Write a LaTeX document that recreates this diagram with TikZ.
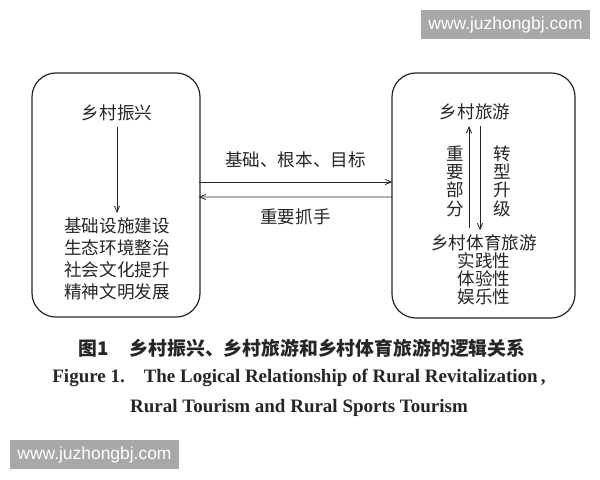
\documentclass[tikz,border=0pt]{standalone}
\usepackage{fontspec}
\setmainfont{Liberation Serif}
\setsansfont{Liberation Sans}
\newfontfamily\cjk{Noto Sans CJK SC}
\usetikzlibrary{arrows,calc,positioning}
\definecolor{ink}{HTML}{262626}
\definecolor{wmgray}{HTML}{A8A8A8}

\begin{document}
\begin{tikzpicture}[%
>=angle 45,
x=0.025cm, y=-0.025cm,
box/.style={draw=ink, line width=0.85pt, rounded corners=0.6cm},
zh/.style={font=\cjk\fontsize{12.5}{15.8}\selectfont, text=ink, inner sep=1pt, align=center},
zhtight/.style={zh, font=\cjk\fontsize{12.5}{12.8}\selectfont},
link/.style={draw=ink, line width=0.6pt},
wmbox/.style={fill=wmgray, text=white, inner sep=0pt, font=\sffamily\fontsize{12.4}{14}\selectfont}
]
\fill[white] (0,0) rectangle (600,480);
\useasboundingbox (0,0) rectangle (600,480);

% the two frames
\node[box, minimum width=4.2cm, minimum height=6.1cm] (lbox) at (116,195) {};
\node[box, minimum width=4.575cm, minimum height=6.125cm] (rbox) at (483.5,195.5) {};

% left frame
\node[zh] (rv) at (117,113) {乡村振兴};
\node[zh] (rvlist) at (117,259) {基础设施建设\\生态环境整治\\社会文化提升\\精神文明发展};
\path[->] (rv) edge [link, shorten <=3pt, shorten >=2pt] (rvlist);

% right frame
\node[zh] (rt) at (475,112) {乡村旅游};
\node[zhtight] (rst) at (484,270) {乡村体育旅游\\实践性\\体验性\\娱乐性};
\node[zh, font=\cjk\fontsize{12.5}{13}\selectfont] (part) at (455,181) {重\\要\\部\\分};
\node[zh, font=\cjk\fontsize{12.5}{13}\selectfont] (upg) at (502,181) {转\\型\\升\\级};
\path[->] ($(rst.north)+(-15,0)$) edge [link, shorten <=4pt, shorten >=3pt] ($(rt.south)+(-6,0)$);
\path[->] ($(rt.south)+(5,0)$) edge [link, shorten <=3pt, shorten >=2pt] ($(rst.north)+(-4,0)$);

% between the frames
\path[->] ($(lbox.east)+(-2,-13)$) edge [link] node[zh, above=9pt] {基础、根本、目标} ($(rbox.west)+(1,-13.5)$);
\path[->] ($(rbox.west)+(1,1.5)$) edge [link] node[zh, below=7pt] {重要抓手} ($(lbox.east)+(-2,2)$);

% caption
\node[text=ink, font=\cjk\bfseries\fontsize{13.4}{16}\selectfont, inner sep=0pt] (capzh) at (302,348)
  {图1\hspace{1.1em}乡村振兴、乡村旅游和乡村体育旅游的逻辑关系};
\node[text=ink, font=\bfseries\fontsize{13.5}{21.3}\selectfont, align=center, inner sep=0pt] (capen) at (299,393)
  {Figure 1.\hspace{1em}The Logical Relationship of Rural Revitalization\,,\\Rural Tourism and Rural Sports Tourism};

% watermarks
\node[wmbox, minimum width=4.225cm, minimum height=0.725cm] (wmtop) at (505.5,24.5) {www.juzhongbj.com};
\node[wmbox, minimum width=4.225cm, minimum height=0.725cm] (wmbot) at (94.5,454.5) {www.juzhongbj.com};
\end{tikzpicture}
\end{document}
